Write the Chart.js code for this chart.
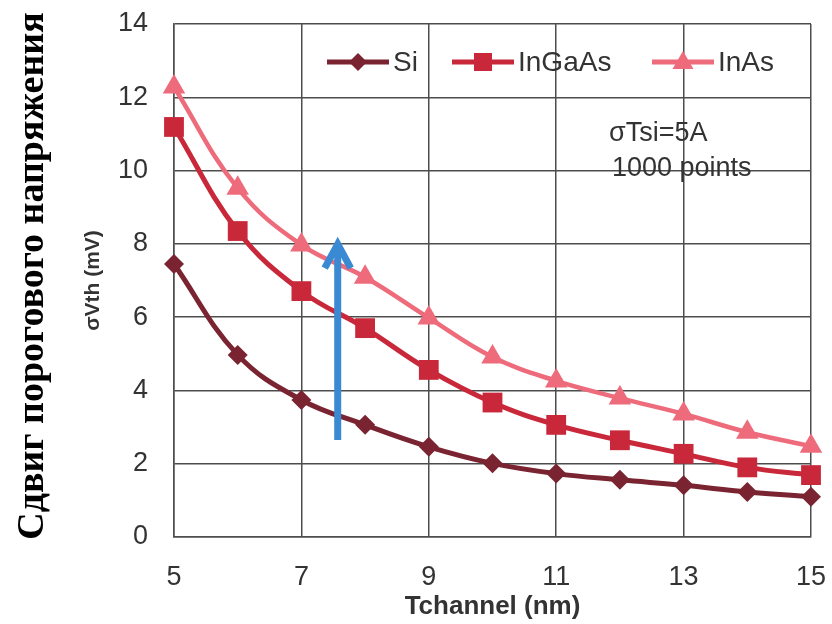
<!DOCTYPE html>
<html lang="ru">
<head>
    <meta charset="UTF-8">
    <title>σVth vs Tchannel</title>
    <script src="https://cdn.jsdelivr.net/npm/chart.js"></script>
    <style>
        html, body { margin: 0; padding: 0; background: #fff; }
        #wrap { width: 832px; height: 624px; }
    </style>
</head>
<body>
    <div id="wrap"><canvas id="lineChart" width="832" height="624"></canvas></div>

    <script>
        // values
        var tchannel = [5, 6, 7, 8, 9, 10, 11, 12, 13, 14, 15];
        var si     = [7.45, 4.97, 3.74, 3.06, 2.46, 2.01, 1.73, 1.56, 1.41, 1.23, 1.10];
        var ingaas = [11.19, 8.35, 6.71, 5.70, 4.56, 3.67, 3.06, 2.64, 2.27, 1.90, 1.69];
        var inas   = [12.28, 9.52, 7.97, 7.09, 5.98, 4.91, 4.26, 3.79, 3.36, 2.86, 2.48];

        var xTicks = [5, 7, 9, 11, 13, 15];
        var yTicks = [0, 2, 4, 6, 8, 10, 12, 14];

        // blue arrow: x position, from / to (mV)
        var arrowX = 7.57;
        var arrowFrom = 2.65;
        var arrowTo = 8.1;

        var outerTitle = 'Сдвиг порогового напряжения';
        var noteLines = ['σTsi=5A', '1000 points'];

        var colSi = '#7a2331';
        var colInGaAs = '#c8283a';
        var colInAs = '#ee6b7b';
        var colArrow = '#3a89d3';

        function pts(ys) {
            return tchannel.map(function (x, i) { return { x: x, y: ys[i] }; });
        }

        function drawMarker(ctx, style, x, y, color) {
            ctx.save();
            ctx.fillStyle = color;
            ctx.beginPath();
            if (style === 'rectRot') {
                ctx.moveTo(x, y - 9); ctx.lineTo(x + 9, y); ctx.lineTo(x, y + 9); ctx.lineTo(x - 9, y);
            } else if (style === 'rect') {
                ctx.rect(x - 9, y - 9, 18, 18);
            } else {
                ctx.moveTo(x, y - 11); ctx.lineTo(x + 10.5, y + 7); ctx.lineTo(x - 10.5, y + 7);
            }
            ctx.closePath();
            ctx.fill();
            ctx.restore();
        }

        var extras = {
            id: 'extras',
            afterDatasetsDraw: function (chart) {
                var ctx = chart.ctx;
                var xs = chart.scales.x, ys = chart.scales.y;

                // arrow
                var ax = xs.getPixelForValue(arrowX);
                var y0 = ys.getPixelForValue(arrowFrom);
                var y1 = ys.getPixelForValue(arrowTo);
                ctx.save();
                ctx.strokeStyle = colArrow;
                ctx.lineWidth = 7;
                ctx.beginPath();
                ctx.moveTo(ax, y0);
                ctx.lineTo(ax, y1 + 3);
                ctx.stroke();
                ctx.lineJoin = 'miter';
                ctx.beginPath();
                ctx.moveTo(ax - 13, y1 + 28);
                ctx.lineTo(ax, y1 + 4);
                ctx.lineTo(ax + 13, y1 + 28);
                ctx.stroke();
                ctx.restore();

                // legend inside the plot
                var items = [
                    { label: 'Si', color: colSi, style: 'rectRot', x: 327 },
                    { label: 'InGaAs', color: colInGaAs, style: 'rect', x: 452 },
                    { label: 'InAs', color: colInAs, style: 'triangle', x: 652 }
                ];
                var ly = 62;
                ctx.save();
                ctx.font = '28px "Liberation Sans", Arial, sans-serif';
                ctx.textBaseline = 'middle';
                items.forEach(function (it) {
                    ctx.strokeStyle = it.color;
                    ctx.lineWidth = 5;
                    ctx.beginPath();
                    ctx.moveTo(it.x, ly);
                    ctx.lineTo(it.x + 62, ly);
                    ctx.stroke();
                    drawMarker(ctx, it.style, it.x + 31, ly, it.color);
                    ctx.fillStyle = '#333';
                    ctx.fillText(it.label, it.x + 66, ly + 1);
                });

                // note
                ctx.font = '27px "Liberation Sans", Arial, sans-serif';
                ctx.fillStyle = '#333';
                ctx.fillText(noteLines[0], 609, 134);
                ctx.fillText(noteLines[1], 612, 169);

                // outer (Russian) axis caption
                ctx.translate(33, 276);
                ctx.rotate(-Math.PI / 2);
                ctx.textAlign = 'center';
                ctx.fillStyle = '#000';
                ctx.font = 'bold 38px "Liberation Serif", "Times New Roman", serif';
                ctx.fillText(outerTitle, 0, 0);
                ctx.restore();
            }
        };

        var ctx = document.getElementById('lineChart').getContext('2d');
        var myChart = new Chart(ctx, {
            type: 'line',
            data: {
                datasets: [{
                    label: 'Si',
                    data: pts(si),
                    borderColor: colSi,
                    backgroundColor: colSi,
                    borderWidth: 5,
                    pointStyle: 'rectRot',
                    pointRadius: 10,
                    pointBorderWidth: 0,
                    tension: 0.4,
                    fill: false
                }, {
                    label: 'InGaAs',
                    data: pts(ingaas),
                    borderColor: colInGaAs,
                    backgroundColor: colInGaAs,
                    borderWidth: 5,
                    pointStyle: 'rect',
                    pointRadius: 14,
                    pointBorderWidth: 0,
                    tension: 0.4,
                    fill: false
                }, {
                    label: 'InAs',
                    data: pts(inas),
                    borderColor: colInAs,
                    backgroundColor: colInAs,
                    borderWidth: 4.5,
                    pointStyle: 'triangle',
                    pointRadius: 13,
                    pointBorderWidth: 0,
                    tension: 0.4,
                    fill: false
                }]
            },
            options: {
                responsive: false,
                animation: false,
                clip: false,
                layout: { autoPadding: false, padding: { top: 24, right: 21, bottom: 0, left: 61 } },
                plugins: {
                    legend: { display: false },
                    tooltip: { enabled: false }
                },
                scales: {
                    x: {
                        type: 'linear',
                        min: 5,
                        max: 15,
                        afterBuildTicks: function (axis) {
                            axis.ticks = xTicks.map(function (v) { return { value: v }; });
                        },
                        afterFit: function (axis) {
                            axis.height = 87;
                            axis.paddingLeft = 0;
                            axis.paddingRight = 0;
                        },
                        grid: { color: '#4d4d4d', lineWidth: 1.5, drawTicks: false },
                        border: { color: '#4d4d4d', width: 1.5 },
                        ticks: {
                            color: '#333',
                            padding: 24,
                            font: { family: '"Liberation Sans", Arial, sans-serif', size: 27 }
                        },
                        title: {
                            display: true,
                            text: 'Tchannel (nm)',
                            color: '#333',
                            padding: { top: 0, bottom: 4 },
                            font: { family: '"Liberation Sans", Arial, sans-serif', size: 26, weight: 'bold', lineHeight: 1 }
                        }
                    },
                    y: {
                        min: 0,
                        max: 14,
                        afterBuildTicks: function (axis) {
                            axis.ticks = yTicks.map(function (v) { return { value: v }; });
                        },
                        afterFit: function (axis) {
                            axis.width = 113;
                            axis.paddingTop = 0;
                            axis.paddingBottom = 0;
                        },
                        grid: { color: '#4d4d4d', lineWidth: 1.5, drawTicks: false },
                        border: { color: '#4d4d4d', width: 1.5 },
                        ticks: {
                            color: '#333',
                            padding: 26,
                            font: { family: '"Liberation Sans", Arial, sans-serif', size: 27 }
                        },
                        title: {
                            display: true,
                            text: 'σVth (mV)',
                            color: '#333',
                            padding: { top: 20, bottom: 0 },
                            font: { family: '"Liberation Sans", Arial, sans-serif', size: 21, weight: 'bold', lineHeight: 1.2 }
                        }
                    }
                }
            },
            plugins: [extras]
        });
    </script>
</body>
</html>
